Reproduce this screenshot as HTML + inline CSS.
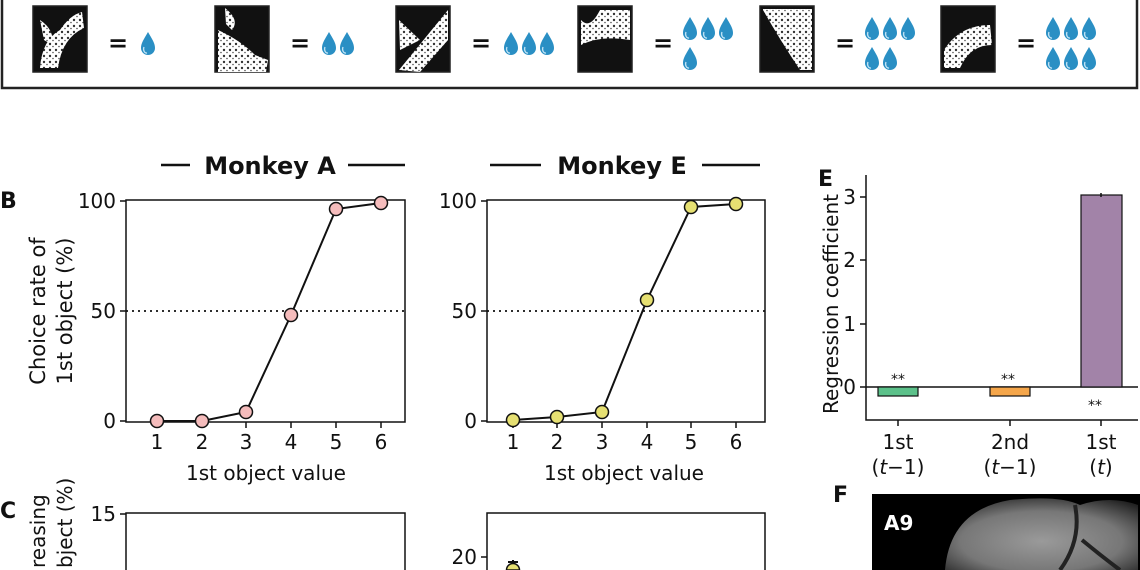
<!DOCTYPE html>
<html><head><style>
html,body{margin:0;padding:0;background:#fff;overflow:hidden;width:1140px;height:570px;}
svg{display:block;font-family:"DejaVu Sans","Liberation Sans",sans-serif;overflow:hidden;}
</style></head><body>
<svg width="1140" height="570" viewBox="0 0 1140 570" xmlns="http://www.w3.org/2000/svg">
<defs>
<g id="drop"><path d="M0,-11 C4,-4 7,0 7,5 A7,7 0 0 1 -7,5 C-7,0 -4,-4 0,-11Z" fill="#2a8fc4"/><path d="M-4,4 A3,4 0 0 0 -1,10" stroke="#bfe3f5" stroke-width="1.3" fill="none"/></g>
<radialGradient id="br" cx="0.5" cy="0.6" r="0.7"><stop offset="0" stop-color="#9a9a9a"/><stop offset="0.6" stop-color="#777"/><stop offset="1" stop-color="#222"/></radialGradient>
<pattern id="spk" width="6" height="6" patternUnits="userSpaceOnUse"><rect width="6" height="6" fill="#fff"/><circle cx="2" cy="2" r="1.2" fill="#333"/><circle cx="5" cy="4.5" r="0.8" fill="#555"/></pattern>
<clipPath id="cp"><rect x="0" y="0" width="1140" height="570"/></clipPath>
</defs>
<g clip-path="url(#cp)">
<rect x="2" y="-2" width="1135" height="90" fill="none" stroke="#222" stroke-width="2.5"/>
<g stroke="#222" stroke-width="1.5">
<rect x="33" y="6" width="54" height="66" fill="#111"/>
<rect x="215" y="6" width="54" height="66" fill="#111"/>
<rect x="396" y="6" width="54" height="66" fill="#111"/>
<rect x="578" y="6" width="54" height="66" fill="#111"/>
<rect x="760" y="6" width="54" height="66" fill="#111"/>
<rect x="941" y="6" width="54" height="66" fill="#111"/>
</g>
<g fill="url(#spk)">
<path d="M40,68 Q42,40 60,30 Q70,15 82,12 L84,28 Q62,38 58,68Z M40,20 Q55,30 52,45 L44,40Z"/>
<path d="M218,30 Q240,40 255,55 L268,60 L266,72 L218,72Z M225,8 Q240,20 232,30 L226,24Z"/>
<path d="M399,70 L448,10 L448,40 L420,72Z M399,20 L420,40 L400,50Z"/>
<path d="M581,45 Q600,35 630,40 L630,10 L600,10 Q590,30 581,20Z"/>
<path d="M763,9 L812,9 L812,70 L800,70 Q780,40 763,10Z"/>
<path d="M944,50 Q960,25 990,25 L992,45 Q970,45 960,68 L944,68Z"/>
</g>
<g font-size="24" font-weight="bold" fill="#111">
<text x="108" y="51">=</text><text x="290" y="51">=</text><text x="471" y="51">=</text>
<text x="653" y="51">=</text><text x="835" y="51">=</text><text x="1016" y="51">=</text>
</g>
<use href="#drop" x="148" y="43"/>
<use href="#drop" x="329" y="43"/><use href="#drop" x="347" y="43"/>
<use href="#drop" x="511" y="43"/><use href="#drop" x="529" y="43"/><use href="#drop" x="547" y="43"/>
<use href="#drop" x="690" y="28"/><use href="#drop" x="708" y="28"/><use href="#drop" x="726" y="28"/><use href="#drop" x="690" y="58"/>
<use href="#drop" x="872" y="28"/><use href="#drop" x="890" y="28"/><use href="#drop" x="908" y="28"/><use href="#drop" x="872" y="58"/><use href="#drop" x="890" y="58"/>
<use href="#drop" x="1053" y="28"/><use href="#drop" x="1071" y="28"/><use href="#drop" x="1089" y="28"/><use href="#drop" x="1053" y="58"/><use href="#drop" x="1071" y="58"/><use href="#drop" x="1089" y="58"/>

<g font-size="24" font-weight="bold" fill="#111" text-anchor="middle">
<text x="270" y="174">Monkey A</text><text x="622" y="174">Monkey E</text>
</g>
<g stroke="#111" stroke-width="2.5">
<line x1="161" y1="165" x2="190" y2="165"/><line x1="348" y1="165" x2="405" y2="165"/>
<line x1="490" y1="165" x2="541" y2="165"/><line x1="702" y1="165" x2="760" y2="165"/>
</g>
<g font-size="22" font-weight="bold" fill="#111">
<text x="0" y="208">B</text><text x="0" y="518">C</text><text x="818" y="186">E</text><text x="833" y="502">F</text>
</g>

<g font-size="20" fill="#111">
<rect x="126" y="200" width="279" height="222" fill="none" stroke="#111" stroke-width="1.5"/>
<line x1="126" y1="311" x2="405" y2="311" stroke="#111" stroke-width="1.8" stroke-dasharray="2,4"/>
<g stroke="#111" stroke-width="1.5"><line x1="120" y1="201" x2="126" y2="201"/><line x1="120" y1="311" x2="126" y2="311"/><line x1="120" y1="421" x2="126" y2="421"/></g>
<g text-anchor="end"><text x="116" y="208">100</text><text x="116" y="318">50</text><text x="116" y="428">0</text></g>
<g text-anchor="middle"><text x="157" y="449">1</text><text x="202" y="449">2</text><text x="246" y="449">3</text><text x="291" y="449">4</text><text x="336" y="449">5</text><text x="381" y="449">6</text>
<text x="266" y="480">1st object value</text></g>
<g stroke="#111" stroke-width="1.5"><line x1="157" y1="422" x2="157" y2="428"/><line x1="202" y1="422" x2="202" y2="428"/><line x1="246" y1="422" x2="246" y2="428"/><line x1="291" y1="422" x2="291" y2="428"/><line x1="336" y1="422" x2="336" y2="428"/><line x1="381" y1="422" x2="381" y2="428"/></g>
<polyline points="157,421 202,421 246,412 291,315 336,209 381,203" fill="none" stroke="#111" stroke-width="2"/>
<g fill="#f5bcbc" stroke="#111" stroke-width="1.5"><circle cx="157" cy="421" r="6.5"/><circle cx="202" cy="421" r="6.5"/><circle cx="246" cy="412" r="6.5"/><circle cx="291" cy="315" r="6.5"/><circle cx="336" cy="209" r="6.5"/><circle cx="381" cy="203" r="6.5"/></g>
<text transform="translate(45,311) rotate(-90)" text-anchor="middle" font-size="21">Choice rate of</text>
<text transform="translate(72,311) rotate(-90)" text-anchor="middle" font-size="21">1st object (%)</text>

<rect x="487" y="200" width="278" height="222" fill="none" stroke="#111" stroke-width="1.5"/>
<line x1="487" y1="311" x2="765" y2="311" stroke="#111" stroke-width="1.8" stroke-dasharray="2,4"/>
<g stroke="#111" stroke-width="1.5"><line x1="481" y1="201" x2="487" y2="201"/><line x1="481" y1="311" x2="487" y2="311"/><line x1="481" y1="421" x2="487" y2="421"/></g>
<g text-anchor="end"><text x="477" y="208">100</text><text x="477" y="318">50</text><text x="477" y="428">0</text></g>
<g text-anchor="middle"><text x="513" y="449">1</text><text x="557" y="449">2</text><text x="602" y="449">3</text><text x="647" y="449">4</text><text x="691" y="449">5</text><text x="736" y="449">6</text>
<text x="624" y="480">1st object value</text></g>
<g stroke="#111" stroke-width="1.5"><line x1="513" y1="422" x2="513" y2="428"/><line x1="557" y1="422" x2="557" y2="428"/><line x1="602" y1="422" x2="602" y2="428"/><line x1="647" y1="422" x2="647" y2="428"/><line x1="691" y1="422" x2="691" y2="428"/><line x1="736" y1="422" x2="736" y2="428"/></g>
<polyline points="513,420 557,417 602,412 647,300 691,207 736,204" fill="none" stroke="#111" stroke-width="2"/>
<g fill="#e6e072" stroke="#111" stroke-width="1.5"><circle cx="513" cy="420" r="6.5"/><circle cx="557" cy="417" r="6.5"/><circle cx="602" cy="412" r="6.5"/><circle cx="647" cy="300" r="6.5"/><circle cx="691" cy="207" r="6.5"/><circle cx="736" cy="204" r="6.5"/></g>

<path d="M126,570 V513 H405 V570" fill="none" stroke="#111" stroke-width="1.5"/>
<line x1="120" y1="514" x2="126" y2="514" stroke="#111" stroke-width="1.5"/>
<text x="116" y="521" text-anchor="end">15</text>
<path d="M487,570 V513 H765 V570" fill="none" stroke="#111" stroke-width="1.5"/>
<line x1="481" y1="557" x2="487" y2="557" stroke="#111" stroke-width="1.5"/>
<text x="477" y="564" text-anchor="end">20</text>
<line x1="513" y1="560" x2="513" y2="570" stroke="#111" stroke-width="2"/>
<line x1="508" y1="562" x2="518" y2="562" stroke="#111" stroke-width="2"/>
<path d="M506.5,570 A6.5,6.5 0 0 1 519.5,570Z" fill="#e6e072" stroke="#111" stroke-width="1.5"/>
<text transform="translate(45,568) rotate(-90)" text-anchor="start" font-size="20">reasing</text>
<text transform="translate(72,568) rotate(-90)" text-anchor="start" font-size="20">bject (%)</text>

<path d="M866,175 V420 H1138" fill="none" stroke="#111" stroke-width="1.5"/>
<line x1="866" y1="387" x2="1138" y2="387" stroke="#111" stroke-width="1.5"/>
<g stroke="#111" stroke-width="1.5"><line x1="860" y1="197" x2="866" y2="197"/><line x1="860" y1="260" x2="866" y2="260"/><line x1="860" y1="324" x2="866" y2="324"/><line x1="860" y1="387" x2="866" y2="387"/>
<line x1="898" y1="420" x2="898" y2="426"/><line x1="1010" y1="420" x2="1010" y2="426"/><line x1="1101" y1="420" x2="1101" y2="426"/></g>
<g text-anchor="end"><text x="856" y="204">3</text><text x="856" y="267">2</text><text x="856" y="331">1</text><text x="856" y="394">0</text></g>
<rect x="878" y="387" width="40" height="9" fill="#5cc18a" stroke="#111" stroke-width="1.2"/>
<rect x="990" y="387" width="40" height="9" fill="#f5a64a" stroke="#111" stroke-width="1.2"/>
<rect x="1081" y="195" width="41" height="192" fill="#a283a8" stroke="#111" stroke-width="1.2"/>
<line x1="1101" y1="193" x2="1101" y2="197" stroke="#111" stroke-width="1.5"/>
<g font-size="14" text-anchor="middle"><text x="898" y="384">**</text><text x="1008" y="384">**</text><text x="1095" y="410">**</text></g>
<g text-anchor="middle"><text x="898" y="449">1st</text><text x="898" y="474">(<tspan font-style="italic">t</tspan>−1)</text>
<text x="1010" y="449">2nd</text><text x="1010" y="474">(<tspan font-style="italic">t</tspan>−1)</text>
<text x="1101" y="449">1st</text><text x="1101" y="474">(<tspan font-style="italic">t</tspan>)</text></g>
<text transform="translate(838,304) rotate(-90)" text-anchor="middle" font-size="20">Regression coefficient</text>
</g>

<rect x="872" y="494" width="268" height="76" fill="#000"/>
<path d="M945,570 Q950,510 1010,500 Q1060,495 1080,505 Q1110,495 1138,505 L1138,570Z" fill="url(#br)"/>
<path d="M1075,505 Q1082,540 1060,570 M1082,540 Q1100,555 1120,570" stroke="#222" stroke-width="4" fill="none"/>
<text x="884" y="530" font-size="20" font-weight="bold" fill="#fff">A9</text>
</g>
</svg>
</body></html>
